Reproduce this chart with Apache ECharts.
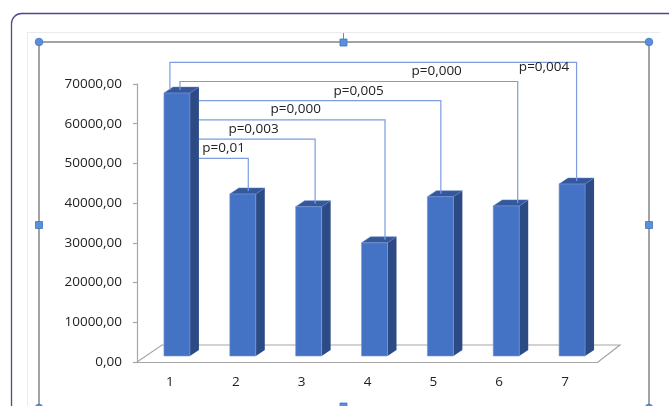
<!DOCTYPE html>
<html lang="en">
<head>
    <meta charset="UTF-8">
    <title>Chart</title>
    <script src="https://cdn.jsdelivr.net/npm/echarts@6/dist/echarts.min.js"></script>
    <style>
        html, body { margin: 0; padding: 0; background: #fff; }
        #main { width: 669px; height: 406px; }
    </style>
</head>
<body>
<div id="main"></div>
<script>
    // data
    const categories = ['1', '2', '3', '4', '5', '6', '7'];
    const values = [66200, 40800, 37600, 28500, 40100, 37800, 43300];
    const yTicks = [0, 10000, 20000, 30000, 40000, 50000, 60000, 70000];
    // comparisons of group 1 against the others
    const compareTo = [1, 2, 3, 4, 5, 6];
    const pLabels = ['p=0,01', 'p=0,003', 'p=0,000', 'p=0,005', 'p=0,000', 'p=0,004'];

    // layout only
    const DX = 9, DY = -6;          // bar depth
    const SHIFT_X = 7, SHIFT_Y = -6; // bars set back from the front plane
    const BAR_W = 26;
    const labelPos = [0.5, 0.47, 0.52, 0.66, 0.76, 0.92];
    const labelDy = [-10, -10, -11, -10, -10, 5];
    const endDx = [1, 2, 6, -4, 7, 0];

    const font = '"Open Sans", "Liberation Sans", sans-serif';
    const fs = 13.5;
    let mychart = echarts.init(document.getElementById('main'));

    function barGeom(api, i, v) {
        let top = api.coord([i, v]);
        let bot = api.coord([i, 0]);
        let cx = top[0] + SHIFT_X;
        return {
            xl: cx - BAR_W / 2, xr: cx + BAR_W / 2,
            yt: top[1] + SHIFT_Y, yb: bot[1] + SHIFT_Y
        };
    }

    function renderBar(params, api) {
        let g = barGeom(api, api.value(0), api.value(1));
        return {
            type: 'group',
            children: [
                {
                    type: 'polygon',
                    shape: {points: [[g.xr, g.yt], [g.xr + DX, g.yt + DY], [g.xr + DX, g.yb + DY], [g.xr, g.yb]]},
                    style: {fill: '#2c4a84'}
                },
                {
                    type: 'polygon',
                    shape: {points: [[g.xl, g.yt], [g.xr, g.yt], [g.xr + DX, g.yt + DY], [g.xl + DX, g.yt + DY]]},
                    style: {fill: '#35589c', stroke: '#5a7fc4', lineWidth: 0.5}
                },
                {
                    type: 'rect',
                    shape: {x: g.xl, y: g.yt, width: BAR_W, height: g.yb - g.yt},
                    style: {fill: '#4472c4', stroke: '#7d9ad6', lineWidth: 0.6}
                }
            ]
        };
    }

    function renderBracket(params, api) {
        let k = params.dataIndex;
        let target = compareTo[k];
        let src = barGeom(api, 0, values[0]);
        let dst = barGeom(api, target, values[target]);
        let plotTop = api.coord([0, 70000])[1];
        let ly = plotTop + 74.3 - k * 19.2;
        let x1 = (dst.xl + dst.xr) / 2 + DX / 2 + endDx[k];
        let y1 = dst.yt + DY / 2;
        let pts;
        let x0;
        if (ly > src.yt) {
            x0 = src.xr + DX;
            pts = [[x0, ly], [x1, ly], [x1, y1]];
        } else {
            x0 = k === 4 ? src.xl + 16 : src.xl + 6;
            pts = [[x0, src.yt + DY / 2], [x0, ly], [x1, ly], [x1, y1]];
        }
        return {
            type: 'group',
            children: [
                {
                    type: 'polyline',
                    shape: {points: pts},
                    style: {stroke: '#7b9de0', lineWidth: 1.2, fill: null}
                },
                {
                    type: 'text',
                    x: x0 + labelPos[k] * (x1 - x0),
                    y: ly + labelDy[k],
                    style: {
                        text: pLabels[k], fill: '#222', font: fs + 'px ' + font,
                        align: 'center', verticalAlign: 'middle'
                    }
                }
            ]
        };
    }

    let handle = '#5b8fd8';
    let option = {
        animation: false,
        grid: {left: 137, top: 84, width: 461, height: 278},
        xAxis: {
            type: 'category',
            data: categories,
            axisLine: {lineStyle: {color: '#a6a6a6', width: 1.2}},
            axisTick: {length: 5, lineStyle: {color: '#a6a6a6', width: 1.2}},
            axisLabel: {color: '#222', fontSize: fs, fontFamily: font, margin: 13}
        },
        yAxis: {
            type: 'value',
            min: yTicks[0],
            max: yTicks[yTicks.length - 1],
            interval: 10000,
            splitLine: {show: false},
            axisLine: {show: true, lineStyle: {color: '#a6a6a6', width: 1.2}},
            axisTick: {show: true, length: 4, lineStyle: {color: '#a6a6a6', width: 1.2}},
            axisLabel: {
                color: '#222', fontSize: fs, fontFamily: font, margin: 15,
                formatter: function (v) { return v.toFixed(2).replace('.', ','); }
            }
        },
        graphic: [
            {type: 'rect', shape: {x: 11.5, y: 13.5, width: 720, height: 460, r: 10},
                style: {fill: null, stroke: '#4e4890', lineWidth: 1.3}, z: 1},
            {type: 'line', shape: {x1: 27, y1: 32.5, x2: 660, y2: 32.5}, style: {stroke: '#ebebeb', lineWidth: 1}},
            {type: 'line', shape: {x1: 27.5, y1: 32, x2: 27.5, y2: 406}, style: {stroke: '#ebebeb', lineWidth: 1}},
            {type: 'rect', shape: {x: 39, y: 42, width: 610, height: 400},
                style: {fill: null, stroke: '#a3a3a3', lineWidth: 2}},
            {type: 'line', shape: {x1: 343.5, y1: 33, x2: 343.5, y2: 42}, style: {stroke: handle, lineWidth: 1}},
            {type: 'circle', shape: {cx: 39, cy: 42, r: 3.8}, style: {fill: handle, stroke: '#3e74c8', lineWidth: 0.8}, z: 5},
            {type: 'circle', shape: {cx: 649, cy: 42, r: 3.8}, style: {fill: handle, stroke: '#3e74c8', lineWidth: 0.8}, z: 5},
            {type: 'circle', shape: {cx: 39, cy: 408, r: 3.8}, style: {fill: handle, stroke: '#3e74c8', lineWidth: 0.8}, z: 5},
            {type: 'circle', shape: {cx: 649, cy: 408, r: 3.8}, style: {fill: handle, stroke: '#3e74c8', lineWidth: 0.8}, z: 5},
            {type: 'rect', shape: {x: 340, y: 39, width: 7, height: 7}, style: {fill: handle, stroke: '#3e74c8', lineWidth: 0.8}, z: 5},
            {type: 'rect', shape: {x: 35.5, y: 221.5, width: 7, height: 7}, style: {fill: handle, stroke: '#3e74c8', lineWidth: 0.8}, z: 5},
            {type: 'rect', shape: {x: 645.5, y: 221.5, width: 7, height: 7}, style: {fill: handle, stroke: '#3e74c8', lineWidth: 0.8}, z: 5},
            {type: 'rect', shape: {x: 340, y: 403, width: 7, height: 7}, style: {fill: handle, stroke: '#3e74c8', lineWidth: 0.8}, z: 5}
        ],
        series: [
            {
                // floor of the 3D plot
                type: 'custom',
                silent: true,
                data: [[0]],
                renderItem: function (params, api) {
                    let a = api.coord([0, 0]);
                    let b = api.coord([categories.length - 1, 0]);
                    let half = api.size([1, 0])[0] / 2;
                    let x0 = a[0] - half, x1 = b[0] + half, y = a[1];
                    return {
                        type: 'polyline',
                        shape: {points: [[x0, y], [x0 + 25, y - 17], [x1 + 22, y - 17], [x1, y]]},
                        style: {stroke: '#a6a6a6', lineWidth: 1.2, fill: null}
                    };
                }
            },
            {
                type: 'custom',
                data: values.map(function (v, i) { return [i, v]; }),
                renderItem: renderBar,
                z: 3
            },
            {
                type: 'custom',
                data: compareTo.map(function (t) { return [t]; }),
                renderItem: renderBracket,
                z: 4
            }
        ]
    };
    mychart.setOption(option);
</script>
</body>
</html>
